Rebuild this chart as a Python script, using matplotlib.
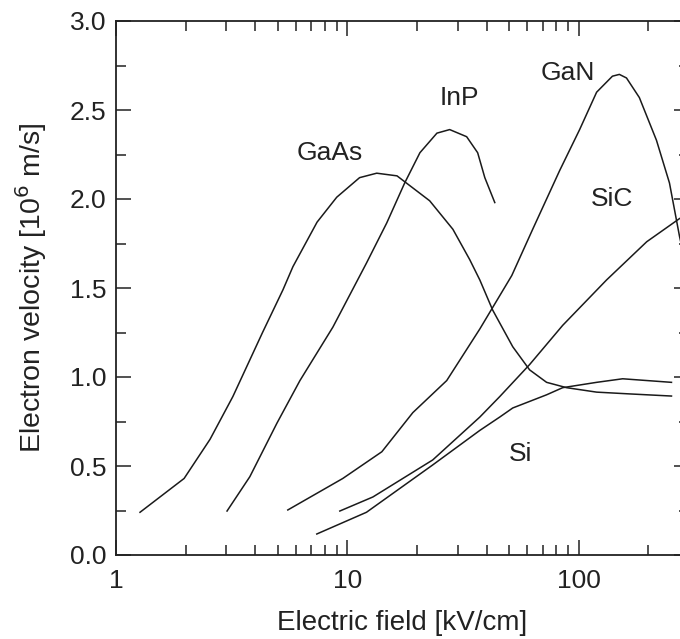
import numpy as np
import matplotlib.pyplot as plt
from matplotlib.ticker import LogLocator, MultipleLocator, FixedFormatter, FixedLocator

"""Electron drift velocity vs electric field for several semiconductors"""

# values (field in kV/cm, velocity in 1e6 m/s)
gaas_field = [1.27, 1.97, 2.55, 3.2, 4.3, 5.27, 5.82, 7.4, 9.0, 11.3, 13.4, 16.4, 22.7,
              28.6, 33.8, 37.4, 42.5, 51.9, 61.4, 72.7, 88.7, 119.6, 166, 252]
gaas_vel = [0.24, 0.43, 0.65, 0.89, 1.25, 1.49, 1.62, 1.87, 2.01, 2.12, 2.145, 2.13, 1.99,
            1.83, 1.66, 1.545, 1.376, 1.17, 1.04, 0.97, 0.94, 0.915, 0.905, 0.893]

inp_field = [3.02, 3.79, 4.96, 6.24, 8.66, 12.1, 14.8, 17.7, 20.6, 24.4, 27.7, 32.8,
             36.6, 39.3, 43.4]
inp_vel = [0.247, 0.44, 0.74, 0.98, 1.28, 1.64, 1.865, 2.09, 2.26, 2.37, 2.39, 2.35,
           2.26, 2.12, 1.98]

gan_field = [5.53, 9.56, 14.1, 19.2, 26.9, 37.4, 51.4, 63.3, 82.8, 101, 119.6, 140, 150,
             161, 183, 217, 247, 273, 300]
gan_vel = [0.253, 0.43, 0.58, 0.80, 0.98, 1.27, 1.57, 1.83, 2.16, 2.39, 2.60, 2.69, 2.70,
           2.68, 2.57, 2.33, 2.09, 1.79, 1.55]

sic_field = [9.28, 12.9, 23.4, 37.4, 45.6, 61.4, 85.3, 132, 197, 273, 300]
sic_vel = [0.247, 0.326, 0.534, 0.775, 0.89, 1.07, 1.29, 1.545, 1.76, 1.89, 1.92]

si_field = [7.38, 12.1, 23.4, 37.4, 45.6, 51.9, 72.7, 85.3, 119.6, 155, 252]
si_vel = [0.118, 0.24, 0.506, 0.70, 0.775, 0.826, 0.90, 0.94, 0.97, 0.99, 0.97]

labels = ["GaAs", "InP", "GaN", "SiC", "Si"]
label_pos = [(8.4, 2.26), (30.6, 2.57), (89.6, 2.71), (139, 2.0), (56.2, 0.57)]

plt.rcParams['font.family'] = ['Liberation Sans', 'DejaVu Sans']

fig = plt.figure(figsize=(6.8, 6.39), dpi=100)
ax = fig.add_axes([116 / 680, 84 / 639, (689 - 116) / 680, (555 - 21) / 639])

lc = '#1a1a1a'
for xs, ys in [(gaas_field, gaas_vel), (inp_field, inp_vel), (gan_field, gan_vel),
               (sic_field, sic_vel), (si_field, si_vel)]:
    ax.plot(xs, ys, color=lc, lw=1.1)

for name, (x, y) in zip(labels, label_pos):
    ax.text(x, y, name, fontsize=19, ha='center', va='center', color='#222222')

ax.set_xscale('log')
ax.set_xlim(1, 300)
ax.set_ylim(0, 3.0)
ax.xaxis.set_major_locator(FixedLocator([1, 10, 100]))
ax.xaxis.set_major_formatter(FixedFormatter(['1', '10', '100']))
ax.xaxis.set_minor_locator(LogLocator(base=10, subs=np.arange(2, 10)))
ax.xaxis.set_minor_formatter(FixedFormatter([]))
ax.yaxis.set_major_locator(MultipleLocator(0.5))
ax.yaxis.set_minor_locator(MultipleLocator(0.25))
ax.yaxis.set_major_formatter(plt.FuncFormatter(lambda v, p: "%.1f" % v))

ax.tick_params(which='both', direction='in', top=True, right=True, color='#222222',
               width=1.1, labelsize=19, labelcolor='#222222')
ax.tick_params(which='major', length=11, pad=7)
ax.tick_params(axis='x', which='major', pad=10)
ax.tick_params(which='minor', length=7)
for s in ax.spines.values():
    s.set_linewidth(1.3)
    s.set_color('#222222')

ax.set_xlabel("Electric field [kV/cm]", fontsize=20, color='#222222', labelpad=12)
ax.set_ylabel("Electron velocity [10$^6$ m/s]", fontsize=20.5, color='#222222', labelpad=15)

fig.savefig("out.png", dpi=100)
